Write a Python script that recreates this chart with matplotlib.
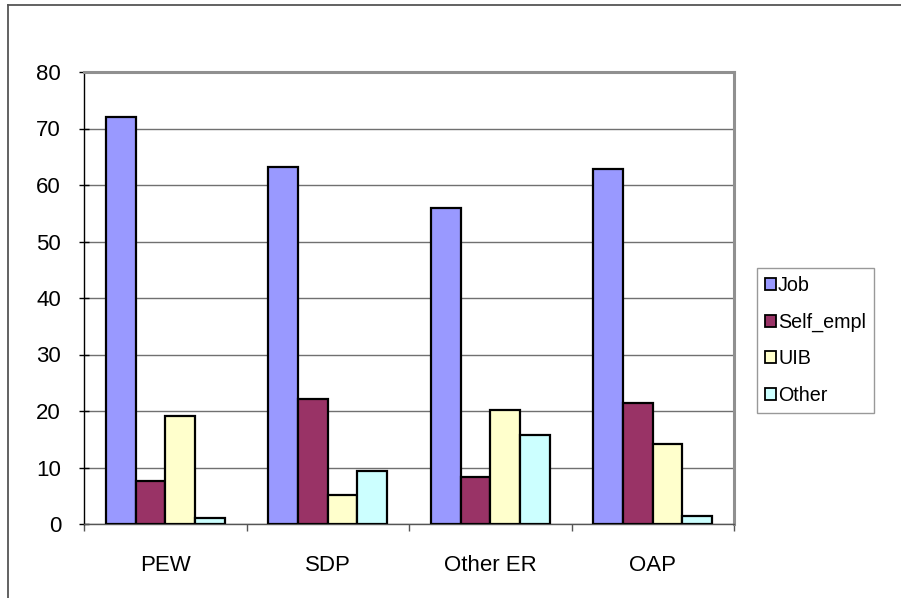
import matplotlib.pyplot as plt
import numpy as np
from matplotlib.lines import Line2D

plt.rcParams['font.family'] = ['Liberation Sans', 'DejaVu Sans']

categories = ['PEW', 'SDP', 'Other ER', 'OAP']
job = [72.0, 63.2, 55.9, 62.8]
self_empl = [7.6, 22.2, 8.3, 21.4]
uib = [19.2, 5.1, 20.1, 14.2]
other = [1.1, 9.3, 15.7, 1.4]

series = [('Job', job, '#9999FF'),
          ('Self_empl', self_empl, '#993366'),
          ('UIB', uib, '#FFFFCC'),
          ('Other', other, '#CCFFFF')]

fig = plt.figure(figsize=(9.01, 5.98), dpi=100)
ax = fig.add_axes([84 / 901, 74 / 598, 650 / 901, 452 / 598])

# outer chart frame
fig.add_artist(Line2D([8 / 901, 1.0], [1 - 4.5 / 598, 1 - 4.5 / 598],
                      transform=fig.transFigure, color='#555555', lw=1.3))
fig.add_artist(Line2D([8 / 901, 8 / 901], [0.0, 1 - 4.5 / 598],
                      transform=fig.transFigure, color='#555555', lw=1.3))

x = np.arange(len(categories))
w = 0.183
for i, (name, vals, col) in enumerate(series):
    ax.bar(x + (i - 1.5) * w, vals, w, color=col, edgecolor='black',
           linewidth=1.6, label=name, zorder=3)

ax.set_xlim(-0.5, 3.5)
ax.set_ylim(0, 80)
ax.set_yticks(range(0, 81, 10))
ax.yaxis.grid(True, color='#707070', linewidth=1.0, zorder=0)

ax.set_xticks(x)
ax.set_xticklabels(categories, fontsize=16)
ax.set_xticks(np.arange(-0.5, 4.0, 1.0), minor=True)
ax.tick_params(axis='x', which='major', length=0, pad=22)
ax.tick_params(axis='x', which='minor', direction='out', length=5,
               color='#555555', width=1.0)
ax.tick_params(axis='y', direction='inout', length=7, width=1.0,
               color='black', labelsize=16, pad=13)

for s in ['top', 'right']:
    ax.spines[s].set_color('#909090')
    ax.spines[s].set_linewidth(2.2)
ax.spines['left'].set_color('black')
ax.spines['left'].set_linewidth(1.0)
ax.spines['bottom'].set_color('#555555')
ax.spines['bottom'].set_linewidth(1.0)

leg = fig.legend(loc='upper left', bbox_to_anchor=(757 / 901, 1 - 268 / 598),
                 bbox_transform=fig.transFigure, fontsize=14.2, frameon=True,
                 fancybox=False, borderaxespad=0, handlelength=0.55,
                 handleheight=0.55, handletextpad=0.1, labelspacing=0.88,
                 borderpad=0.42)
leg.get_frame().set_edgecolor('#808080')
leg.get_frame().set_linewidth(1.0)
for p in leg.get_patches():
    p.set_linewidth(1.3)

fig.savefig('out.png', dpi=100)
